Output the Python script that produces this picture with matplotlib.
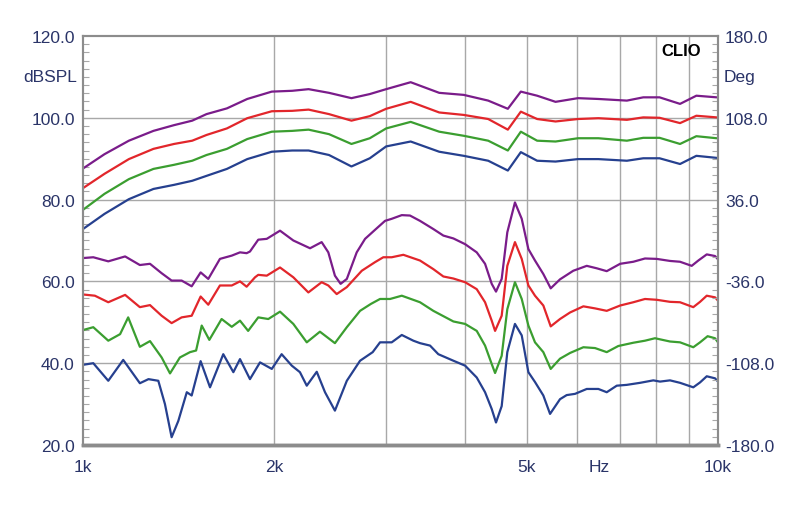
import numpy as np
import matplotlib
matplotlib.use("Agg")
import matplotlib.pyplot as plt
from matplotlib.ticker import FixedLocator, NullFormatter

plt.rcParams['font.family'] = ['Liberation Sans', 'DejaVu Sans']

# ---- magnitude curves (dBSPL), frequency in Hz ----
f_mag = [1000, 1081, 1181, 1291, 1391, 1486, 1565, 1685, 1814, 1983, 2135, 2266,
         2440, 2647, 2829, 3002, 3281, 3639, 3977, 4346, 4667, 4892, 5190, 5548,
         6019, 6481, 7186, 7626, 8091, 8714, 9245, 9950]
mag_purple = [87.6, 91.1, 94.4, 96.8, 98.2, 99.3, 100.9, 102.3, 104.6, 106.4, 106.6, 107.0,
              106.1, 104.8, 105.8, 107.0, 108.7, 106.1, 105.6, 104.2, 102.2, 106.4, 105.4, 103.9,
              104.8, 104.6, 104.2, 105.0, 105.0, 103.4, 105.4, 105.0]
mag_red = [82.8, 86.3, 89.9, 92.4, 93.6, 94.4, 95.8, 97.4, 99.9, 101.6, 101.7, 102.0,
           100.9, 99.3, 100.4, 102.2, 103.9, 101.3, 100.7, 99.7, 97.1, 101.5, 99.7, 99.1,
           99.7, 99.9, 99.5, 100.1, 100.0, 98.7, 100.5, 100.1]
mag_green = [77.5, 81.4, 85.0, 87.5, 88.5, 89.5, 90.9, 92.4, 94.8, 96.6, 96.8, 97.1,
             96.0, 93.6, 95.0, 97.4, 99.0, 96.6, 95.6, 94.4, 92.0, 96.6, 94.4, 94.2,
             95.0, 95.0, 94.4, 95.1, 95.1, 93.6, 95.5, 95.0]
mag_blue = [72.8, 76.5, 80.1, 82.6, 83.6, 84.6, 85.8, 87.5, 89.9, 91.7, 92.0, 92.0,
            90.9, 88.1, 90.1, 93.0, 94.2, 91.7, 90.7, 89.5, 87.1, 91.6, 89.5, 89.3,
            89.9, 89.9, 89.5, 90.1, 90.1, 88.7, 90.7, 90.2]

# ---- phase curves (read on the dBSPL scale) ----
f_ph_purple = [1000, 1038, 1096, 1165, 1229, 1275, 1330, 1379, 1430, 1483, 1532, 1575,
               1643, 1715, 1767, 1810, 1832, 1888, 1947, 2043, 2144, 2278, 2376, 2434,
               2493, 2545, 2603, 2698, 2781, 2883, 2990, 3063, 3177, 3273, 3394, 3562,
               3694, 3831, 3997, 4169, 4297, 4402, 4471, 4564, 4658, 4789, 4908, 5028,
               5150, 5308, 5452, 5639, 5917, 6213, 6443, 6680, 7013, 7356, 7674, 8008,
               8403, 8714, 9090, 9311, 9600, 9893, 10000]
ph_purple = [65.7, 65.9, 64.9, 66.1, 64.0, 64.3, 62.0, 60.2, 60.2, 58.8, 62.2, 60.6,
             65.5, 66.3, 67.1, 66.9, 67.3, 70.2, 70.4, 72.4, 70.0, 68.1, 69.6, 67.1,
             61.4, 59.4, 60.6, 67.1, 70.4, 72.6, 74.8, 75.3, 76.2, 76.1, 74.8, 72.8,
             71.2, 70.5, 69.1, 67.1, 64.3, 59.4, 57.5, 60.6, 72.0, 79.3, 75.3, 67.9,
             65.1, 61.8, 58.3, 60.5, 62.6, 63.8, 63.2, 62.5, 64.3, 64.8, 65.6, 65.5,
             65.0, 64.8, 63.8, 65.1, 66.6, 66.2, 65.4]

f_ph_red = [1000, 1044, 1096, 1165, 1229, 1275, 1330, 1379, 1430, 1483, 1532, 1575,
            1643, 1715, 1767, 1810, 1866, 1888, 1947, 2043, 2144, 2264, 2376, 2434,
            2509, 2603, 2748, 2883, 2971, 3063, 3195, 3394, 3562, 3694, 3831, 3997,
            4169, 4297, 4402, 4456, 4564, 4658, 4789, 4908, 5028, 5150, 5308, 5452,
            5639, 5848, 6137, 6402, 6680, 7013, 7356, 7674, 8008, 8403, 8714, 9143,
            9370, 9600, 9893, 10000]
ph_red = [56.8, 56.5, 54.9, 56.7, 53.7, 54.2, 51.6, 49.8, 51.2, 51.6, 56.3, 54.3,
          59.0, 59.0, 60.0, 58.7, 61.0, 61.6, 61.4, 63.4, 61.0, 57.3, 59.8, 59.0,
          56.9, 58.6, 62.6, 64.7, 65.9, 65.9, 66.5, 65.1, 63.0, 61.2, 60.7, 59.8,
          58.1, 54.9, 50.4, 47.9, 51.6, 63.8, 69.6, 65.5, 59.0, 56.5, 54.1, 49.0,
          50.8, 52.4, 53.9, 53.4, 52.8, 54.1, 54.9, 55.7, 55.5, 55.0, 54.9, 53.7,
          55.0, 56.5, 56.1, 55.3]

f_ph_green = [1000, 1038, 1096, 1144, 1178, 1229, 1275, 1330, 1371, 1421, 1474, 1507,
              1538, 1581, 1653, 1715, 1767, 1820, 1888, 1958, 2043, 2144, 2251, 2361,
              2493, 2603, 2731, 2841, 2936, 3045, 3177, 3394, 3562, 3694, 3831, 3997,
              4169, 4297, 4402, 4456, 4564, 4658, 4789, 4908, 5028, 5150, 5308, 5452,
              5639, 5848, 6137, 6402, 6680, 6966, 7356, 7674, 7958, 8403, 8714, 9143,
              9370, 9630, 9893, 10000]
ph_green = [48.1, 48.8, 45.5, 47.1, 51.2, 44.0, 45.4, 41.4, 37.5, 41.4, 42.7, 43.1,
            49.2, 45.7, 50.8, 48.9, 50.4, 47.9, 51.2, 50.8, 52.6, 49.6, 45.1, 47.7,
            44.9, 48.8, 52.8, 54.5, 55.7, 55.7, 56.5, 54.9, 52.8, 51.5, 50.2, 49.6,
            47.9, 44.3, 39.8, 37.6, 41.8, 53.2, 59.8, 55.7, 49.2, 45.1, 42.7, 38.6,
            41.1, 42.5, 43.9, 43.7, 42.7, 44.2, 45.0, 45.5, 46.1, 45.3, 45.1, 43.9,
            45.1, 46.6, 46.1, 45.1]

f_ph_blue = [1000, 1038, 1096, 1157, 1229, 1268, 1314, 1346, 1379, 1413, 1457, 1483,
             1532, 1585, 1663, 1725, 1767, 1832, 1900, 1983, 2055, 2132, 2196, 2251,
             2334, 2405, 2493, 2603, 2731, 2859, 2936, 3063, 3177, 3313, 3394, 3520,
             3627, 3831, 3997, 4169, 4297, 4402, 4471, 4564, 4658, 4789, 4908, 5028,
             5150, 5308, 5439, 5639, 5777, 5954, 6213, 6480, 6680, 6927, 7183, 7539,
             7909, 8105, 8403, 8714, 9143, 9370, 9600, 9893, 10000]
ph_blue = [39.6, 40.0, 35.7, 40.8, 35.1, 36.1, 35.7, 30.0, 21.9, 25.9, 32.9, 32.1,
           40.5, 34.1, 42.2, 37.8, 41.0, 36.1, 40.2, 38.6, 42.2, 39.4, 37.8, 34.5,
           37.9, 32.9, 28.4, 35.7, 40.6, 42.7, 45.1, 45.1, 46.9, 45.5, 44.9, 44.3,
           42.2, 40.6, 39.4, 36.5, 32.9, 28.8, 25.5, 29.5, 42.7, 49.6, 46.8, 37.8,
           35.4, 32.1, 27.6, 31.2, 32.2, 32.5, 33.7, 33.7, 32.9, 34.5, 34.7, 35.2,
           35.8, 35.5, 35.8, 35.2, 34.1, 35.3, 36.8, 36.3, 35.5]

col_purple = '#7a1c8a'
col_red = '#e2262b'
col_green = '#3b9e30'
col_blue = '#26408f'
text_col = '#2a3468'
grid_col = '#a8a8a8'

fig = plt.figure(figsize=(8, 5.06), dpi=100)
ax = fig.add_axes([0.10375, 0.1186, 0.79375, 0.8083])

ax.set_xscale('log')
ax.set_xlim(1000, 10000)
ax.set_ylim(20, 120)

for x, y, c in [(f_mag, mag_purple, col_purple), (f_mag, mag_red, col_red),
                (f_mag, mag_green, col_green), (f_mag, mag_blue, col_blue),
                (f_ph_purple, ph_purple, col_purple), (f_ph_red, ph_red, col_red),
                (f_ph_green, ph_green, col_green), (f_ph_blue, ph_blue, col_blue)]:
    ax.plot(x, y, color=c, lw=1.6, solid_joinstyle='round', solid_capstyle='round')

# grid
for f in range(2000, 10000, 1000):
    ax.axvline(f, color=grid_col, lw=1, zorder=0)
for v in [40, 60, 80, 100]:
    ax.axhline(v, color=grid_col, lw=1, zorder=0)

# left axis
ax.yaxis.set_major_locator(FixedLocator([20, 40, 60, 80, 100, 120]))
ax.yaxis.set_minor_locator(FixedLocator(np.arange(20, 121, 2)))
ax.set_yticklabels(['20.0', '40.0', '60.0', '80.0', '100.0', '120.0'])
ax.tick_params(axis='y', which='both', direction='in', color=grid_col, labelcolor=text_col,
               labelsize=12.5, pad=6)
ax.tick_params(axis='y', which='major', length=0)
ax.tick_params(axis='y', which='minor', length=4, width=0.8)

# x ticks
ax.xaxis.set_major_locator(FixedLocator([1000, 2000, 5000, 6500, 10000]))
ax.xaxis.set_minor_locator(FixedLocator([]))
ax.xaxis.set_minor_formatter(NullFormatter())
ax.set_xticklabels(['1k', '2k', '5k', 'Hz', '10k'])
ax.tick_params(axis='x', which='both', length=0, labelcolor=text_col, labelsize=12.5, pad=10)

# right axis
ax2 = ax.twinx()
ax2.set_ylim(-180, 180)
ax2.yaxis.set_major_locator(FixedLocator([-180, -108, -36, 36, 108, 180]))
ax2.yaxis.set_minor_locator(FixedLocator(np.arange(-180, 181, 7.2)))
ax2.set_yticklabels(['-180.0', '-108.0', '-36.0', '36.0', '108.0', '180.0'])
ax2.tick_params(axis='y', which='both', direction='in', color=grid_col, labelcolor=text_col,
                labelsize=12.5, pad=5)
ax2.tick_params(axis='y', which='major', length=0)
ax2.tick_params(axis='y', which='minor', length=4, width=0.8)

for a in (ax, ax2):
    for s in a.spines.values():
        s.set_color('#8c8c8c')
        s.set_linewidth(1.5)
ax.spines['bottom'].set_linewidth(2.5)
ax2.spines['bottom'].set_linewidth(2.5)

# axis titles
ax.text(-0.009, 0.90, 'dBSPL', transform=ax.transAxes, ha='right', va='center',
        color=text_col, fontsize=12.5)
ax.text(1.009, 0.90, 'Deg', transform=ax.transAxes, ha='left', va='center',
        color=text_col, fontsize=12.5)
ax.text(0.974, 0.983, 'CLIO', transform=ax.transAxes, ha='right', va='top',
        color='black', fontsize=12, fontweight='bold')

fig.savefig('out.png', dpi=100)
